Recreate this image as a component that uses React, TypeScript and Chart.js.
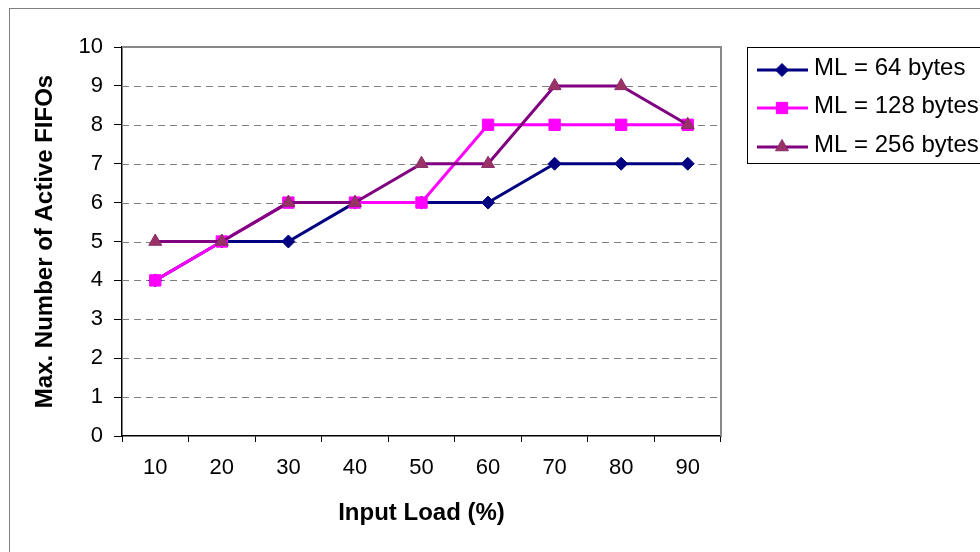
import React, { useEffect, useRef } from "react";
import { Chart, registerables } from "chart.js";

Chart.register(...registerables);

const categories = ["10", "20", "30", "40", "50", "60", "70", "80", "90"];
const ml64 = [4, 5, 5, 6, 6, 6, 7, 7, 7];
const ml128 = [4, 5, 6, 6, 6, 8, 8, 8, 8];
const ml256 = [5, 5, 6, 6, 7, 7, 9, 9, 8];
const seriesLabels = ["ML = 64 bytes", "ML = 128 bytes", "ML = 256 bytes"];
const xTitle = "Input Load (%)";
const yTitle = "Max. Number of Active FIFOs";

const FONT = "'Liberation Sans', Arial, Helvetica, sans-serif";

function drawMarker(ctx: CanvasRenderingContext2D, style: string, x: number, y: number, r: number, fill: string, stroke: string) {
  ctx.save();
  ctx.fillStyle = fill;
  ctx.strokeStyle = stroke;
  ctx.lineWidth = 1;
  ctx.beginPath();
  if (style === "rectRot") {
    ctx.moveTo(x - r, y);
    ctx.lineTo(x, y - r);
    ctx.lineTo(x + r, y);
    ctx.lineTo(x, y + r);
    ctx.closePath();
  } else if (style === "rect") {
    const s = Math.SQRT1_2 * r;
    ctx.rect(x - s, y - s, 2 * s, 2 * s);
  } else {
    const a = (2 * Math.PI) / 3;
    ctx.moveTo(x, y - r);
    ctx.lineTo(x + Math.sin(a) * r, y - Math.cos(a) * r);
    ctx.lineTo(x + Math.sin(2 * a) * r, y - Math.cos(2 * a) * r);
    ctx.closePath();
  }
  ctx.fill();
  ctx.stroke();
  ctx.restore();
}

const gridPlugin = {
  id: "excelGrid",
  beforeDatasetsDraw(chart: any) {
    const { ctx, chartArea } = chart;
    const ys = chart.scales.y;
    ctx.save();
    ctx.strokeStyle = "#808080";
    ctx.lineWidth = 1;
    ctx.setLineDash([7, 5]);
    ys.ticks.forEach((t: any) => {
      if (t.value <= ys.min || t.value >= ys.max) return;
      const y = Math.round(ys.getPixelForValue(t.value)) + 0.5;
      ctx.beginPath();
      ctx.moveTo(chartArea.left, y);
      ctx.lineTo(chartArea.right, y);
      ctx.stroke();
    });
    ctx.setLineDash([]);
    ctx.strokeStyle = "#888888";
    ctx.lineWidth = 2;
    ctx.beginPath();
    ctx.moveTo(chartArea.left, chartArea.top);
    ctx.lineTo(chartArea.right, chartArea.top);
    ctx.lineTo(chartArea.right, chartArea.bottom);
    ctx.stroke();
    ctx.restore();
  },
};

const legendPlugin = {
  id: "excelLegend",
  afterDraw(chart: any) {
    const { ctx } = chart;
    ctx.save();
    ctx.strokeStyle = "#000";
    ctx.lineWidth = 1;
    ctx.strokeRect(747.5, 47.5, 260, 116);
    const rowY = [70, 108, 147];
    chart.data.datasets.forEach((ds: any, i: number) => {
      const y = rowY[i];
      ctx.strokeStyle = ds.borderColor;
      ctx.lineWidth = ds.borderWidth;
      ctx.beginPath();
      ctx.moveTo(757, y);
      ctx.lineTo(808, y);
      ctx.stroke();
      drawMarker(ctx, ds.pointStyle, 782, y, ds.pointRadius, ds.pointBackgroundColor, ds.pointBorderColor);
      ctx.fillStyle = "#000";
      ctx.font = `24px ${FONT}`;
      ctx.textBaseline = "middle";
      ctx.textAlign = "left";
      ctx.fillText(ds.label, 814, y - 2);
    });
    ctx.restore();
  },
};

export default function App() {
  const ref = useRef<HTMLCanvasElement | null>(null);
  useEffect(() => {
    if (!ref.current) return;
    const chart = new Chart(ref.current, {
      type: "line",
      data: {
        labels: categories,
        datasets: [
          {
            label: seriesLabels[0],
            data: ml64,
            borderColor: "#000080",
            backgroundColor: "#000080",
            borderWidth: 3,
            pointStyle: "rectRot",
            pointRadius: 6.5,
            pointBackgroundColor: "#000080",
            pointBorderColor: "#000080",
            pointBorderWidth: 1,
            tension: 0,
            order: 2,
          },
          {
            label: seriesLabels[1],
            data: ml128,
            borderColor: "#FF00FF",
            backgroundColor: "#FF00FF",
            borderWidth: 3,
            pointStyle: "rect",
            pointRadius: 8,
            pointBackgroundColor: "#FF00FF",
            pointBorderColor: "#FF00FF",
            pointBorderWidth: 1,
            tension: 0,
            order: 1,
          },
          {
            label: seriesLabels[2],
            data: ml256,
            borderColor: "#800080",
            backgroundColor: "#993366",
            borderWidth: 3,
            pointStyle: "triangle",
            pointRadius: 7.5,
            pointBackgroundColor: "#993366",
            pointBorderColor: "#8B2C6A",
            pointBorderWidth: 1,
            tension: 0,
            order: 0,
          },
        ],
      },
      options: {
        animation: false,
        responsive: false,
        layout: { padding: { left: 31, top: 47, right: 259, bottom: 24 } },
        plugins: { legend: { display: false }, tooltip: { enabled: false }, title: { display: false } },
        scales: {
          x: {
            type: "category",
            offset: true,
            grid: { display: true, offset: true, drawOnChartArea: false, drawTicks: true, tickLength: 6, tickColor: "#000", tickWidth: 1, tickBorderDash: [] },
            border: { display: true, color: "#000", width: 1.5 },
            ticks: { color: "#000", font: { family: FONT, size: 22 }, padding: 13, maxRotation: 0, autoSkip: false },
            title: { display: true, text: xTitle, color: "#000", font: { family: FONT, size: 24, weight: "bold" }, padding: 0 },
            afterFit: (s: any) => { s.height = 92; },
          },
          y: {
            min: 0,
            max: 10,
            ticks: { stepSize: 1, color: "#000", font: { family: FONT, size: 22 }, padding: 11 },
            grid: { display: true, drawOnChartArea: false, drawTicks: true, tickLength: 8, tickColor: "#000", tickWidth: 1, tickBorderDash: [] },
            border: { display: true, color: "#000", width: 1.5 },
            title: { display: true, text: yTitle, color: "#000", font: { family: FONT, size: 24, weight: "bold" }, padding: 0 },
            afterFit: (s: any) => { s.width = 91; },
          },
        },
      },
      plugins: [gridPlugin, legendPlugin],
    } as any);
    return () => chart.destroy();
  }, []);
  return (
    <>
      <div style={{ position: "fixed", left: 9, top: 8, width: 971, height: 544, borderLeft: "1px solid #808080", borderTop: "1px solid #808080", boxSizing: "border-box" }} />
      <canvas ref={ref} width={980} height={552} style={{ position: "fixed", left: 0, top: 0, width: 980, height: 552 }} />
    </>
  );
}
